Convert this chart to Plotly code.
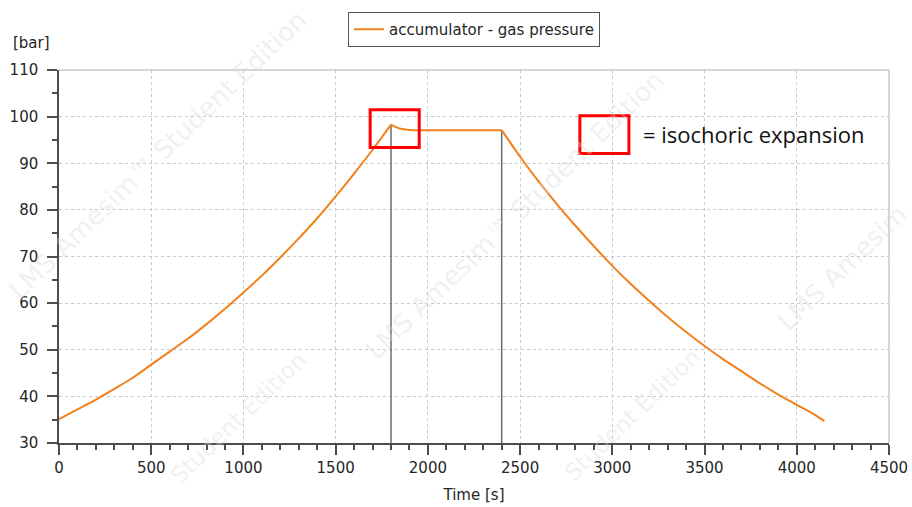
import plotly.graph_objects as go

# Accumulator gas pressure over one charge / hold / discharge cycle
time_charge = [0, 100, 200, 300, 400, 500, 600, 700, 800, 900, 1000,
               1100, 1200, 1300, 1400, 1500, 1600, 1700, 1800]
p_charge = [35.1, 37.2, 39.3, 41.6, 44.0, 46.8, 49.6, 52.4, 55.5, 58.8, 62.3,
            65.9, 69.8, 73.9, 78.2, 82.9, 87.8, 92.9, 98.3]

time_hold = [1800, 1830, 1860, 1900, 2000, 2200, 2400]
p_hold = [98.3, 97.7, 97.35, 97.15, 97.1, 97.1, 97.1]

time_discharge = [2400, 2500, 2600, 2700, 2800, 2900, 3000, 3100, 3200, 3300,
                  3400, 3500, 3600, 3700, 3800, 3900, 4000, 4100, 4150]
p_discharge = [97.1, 91.4, 86.1, 81.2, 76.6, 72.2, 68.0, 64.1, 60.5, 57.0,
               53.8, 50.8, 48.0, 45.4, 42.8, 40.4, 38.2, 36.0, 34.7]

# valve switching instants
switch_times = [1800, 2400]
switch_levels = [98.3, 97.1]

x_ticks = [0, 500, 1000, 1500, 2000, 2500, 3000, 3500, 4000, 4500]
y_ticks = [30, 40, 50, 60, 70, 80, 90, 100, 110]

AXIS = "#4d4d4d"
TXT = "#262626"
ORANGE = "#f2811d"
FONT = "DejaVu Sans"

# plot-area geometry in pixels, used to place paper-referenced items
L, R, T, B = 59, 889, 70, 443

def px(x):
    return (x - L) / (R - L)

def py(y):
    return (B - y) / (B - T)

fig = go.Figure()

for t, p in zip(switch_times, switch_levels):
    fig.add_trace(go.Scatter(x=[t, t], y=[y_ticks[0], p], mode="lines",
                             line=dict(color="#6b6b6b", width=1.5),
                             showlegend=False, hoverinfo="skip"))

segments = [(time_charge, p_charge), (time_hold, p_hold), (time_discharge, p_discharge)]
for i, (tx, pv) in enumerate(segments):
    fig.add_trace(go.Scatter(x=tx, y=pv, mode="lines",
                             name="accumulator - gas pressure",
                             legendgroup="p", showlegend=(i == 0),
                             line=dict(color=ORANGE, width=2, shape="spline", smoothing=0.8)))

# watermark pieces
wm_full = "LMS Amesim\u2122 Student Edition"
watermarks = [(wm_full, 158, 155, 26), (wm_full, 515, 215, 26),
              ("LMS Amesim", 842, 268, 26), ("Student Edition", 238, 418, 23),
              ("Student Edition", 632, 415, 23)]
for txt, cx, cy, sz in watermarks:
    fig.add_annotation(xref="paper", yref="paper", x=px(cx), y=py(cy),
                       xanchor="center", yanchor="middle",
                       text=txt, showarrow=False, textangle=-44,
                       font=dict(family=FONT, size=sz, color="rgba(215,215,215,0.38)"))

# red markers: one on the curve, one as the key
fig.add_shape(type="rect", xref="x", yref="y", x0=1687, x1=1953, y0=93.4, y1=101.5,
              line=dict(color="#ff0000", width=3))
fig.add_shape(type="rect", xref="x", yref="y", x0=2824, x1=3090, y0=92.1, y1=100.2,
              line=dict(color="#ff0000", width=3))
fig.add_annotation(xref="paper", yref="paper", x=px(641), y=py(134),
                   xanchor="left", yanchor="middle", showarrow=False,
                   text="= isochoric expansion",
                   font=dict(family="Open Sans", size=22, color="#111111"))

# light frame on top and right
fig.add_shape(type="line", xref="paper", yref="paper", x0=0, x1=1, y0=1, y1=1,
              line=dict(color="#c8c8c8", width=1.5))
fig.add_shape(type="line", xref="paper", yref="paper", x0=1, x1=1, y0=0, y1=1,
              line=dict(color="#c8c8c8", width=1.5))

fig.add_annotation(xref="paper", yref="paper", x=px(11), y=py(43),
                   xanchor="left", yanchor="middle", showarrow=False, text="[bar]",
                   font=dict(family=FONT, size=15, color=TXT))

axis_common = dict(showline=True, linecolor=AXIS, linewidth=1.5,
                   ticks="outside", ticklen=10, tickwidth=1.5, tickcolor=AXIS,
                   showgrid=True, gridcolor="#c9c9c9", griddash="dot", gridwidth=1,
                   zeroline=False, automargin=False,
                   tickfont=dict(family=FONT, size=15, color=TXT))

fig.update_xaxes(range=[x_ticks[0], x_ticks[-1]], tickvals=x_ticks,
                 minor=dict(dtick=100, ticks="outside", ticklen=5, tickwidth=1.5,
                            tickcolor=AXIS, showgrid=False),
                 title=dict(text="Time [s]", font=dict(family=FONT, size=15, color=TXT),
                            standoff=14),
                 **axis_common)
fig.update_yaxes(range=[y_ticks[0], y_ticks[-1]], tickvals=y_ticks,
                 minor=dict(dtick=5, ticks="outside", ticklen=5, tickwidth=1.5,
                            tickcolor=AXIS, showgrid=False),
                 ticklabelstandoff=6,
                 **axis_common)

fig.update_layout(
    width=912, height=507,
    margin=dict(l=L, r=912 - R, t=T, b=507 - B, autoexpand=False),
    paper_bgcolor="white", plot_bgcolor="white",
    showlegend=True,
    legend=dict(x=0.5, xanchor="center", y=py(12), yanchor="top",
                bordercolor="#555555", borderwidth=1, bgcolor="white",
                font=dict(family=FONT, size=15, color=TXT)),
)

fig.write_html("out.html")
